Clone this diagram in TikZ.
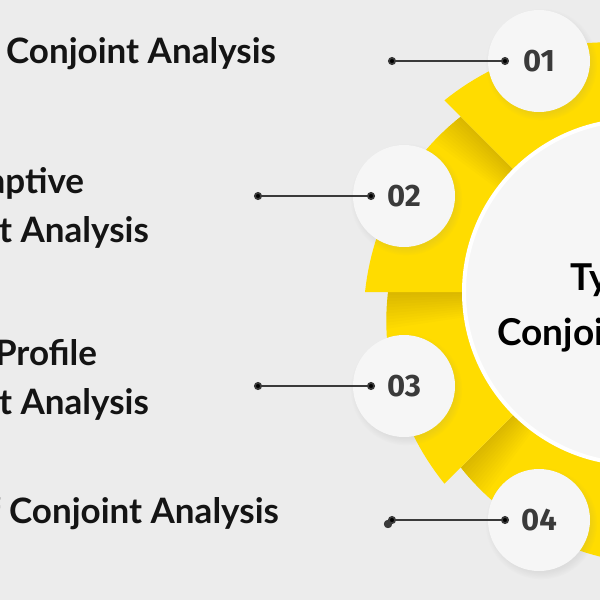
\documentclass[tikz,border=0pt]{standalone}
\usepackage{fontspec}
\setmainfont{Lato}
\newfontfamily\numfont{Fira Sans}
\usepackage{tikz}
\usetikzlibrary{arrows.meta, positioning, shadows}

\definecolor{paper}{HTML}{ECECEC}
\definecolor{sunny}{HTML}{FFDC00}
\definecolor{disc}{HTML}{F6F6F6}
\definecolor{ink}{HTML}{3A3A3A}

% one yellow blade of the fan, from angle #1 to angle #2
\newcommand{\blade}[2]{plot[domain=#1:#2, samples=30] (\x:{248+23*(\x-#1)/45})
  -- (#2:140) arc[start angle=#2, end angle=#1, radius=140] -- cycle}

\begin{document}
\begin{tikzpicture}[x=1pt, y=-1pt,
    numdisc/.style={circle, fill=disc, minimum size=102pt, inner sep=0pt,
      font=\numfont\fontsize{31}{31}\selectfont\bfseries, text=ink,
      circular drop shadow={opacity=.14, shadow xshift=2pt, shadow yshift=-3pt}},
    itemtext/.style={inner sep=0pt, align=center, text=black!92,
      font=\fontsize{35}{49}\selectfont\bfseries},
    connector/.style={{Circle[length=8pt]}-{Circle[length=8pt]}, line width=1.8pt, draw=ink}]
    \useasboundingbox (0,0) rectangle (600,600);
    \clip (0,0) rectangle (600,600);
    \fill[paper] (0,0) rectangle (600,600);

    \coordinate (hub) at (636,292);

    % fan of yellow blades, each one lying on the next
    \begin{scope}[shift={(hub)}, y=1pt]
        \foreach \a [evaluate=\a as \b using \a+45, evaluate=\a as \c using \a-45] in {225,180,135,90} {
            \fill[sunny] \blade{\a}{\b};
            \begin{scope}
                \clip \blade{\a}{\b};
                \foreach \k in {1,...,12}
                    \fill[black, opacity=.012, rotate=\k*0.7] \blade{\c}{\a};
            \end{scope}
        }
    \end{scope}

    \node (core) [circle, fill=disc, draw=white, line width=4pt, minimum size=344pt,
        circular drop shadow={opacity=.08, shadow xshift=0pt, shadow yshift=-2pt, shadow scale=1.01}] at (hub) {};
    \node (title) [itemtext, text=black, font=\fontsize{37}{55}\selectfont\bfseries] at (640,308)
        {Types of\\Conjoint Analysis};

    \node (n1) [numdisc] at (539,61) {01};
    \node (n2) [numdisc] at (404,196) {02};
    \node (n3) [numdisc] at (404,386) {03};
    \node (n4) [numdisc] at (539,520) {04};

    \coordinate [left=30pt of n1.center] (d1b);
    \coordinate [left=121pt of d1b] (d1a);
    \coordinate [left=29pt of n2.center] (d2b);
    \coordinate [left=121pt of d2b] (d2a);
    \coordinate [left=29pt of n3.center] (d3b);
    \coordinate [left=121pt of d3b] (d3a);
    \coordinate [left=30pt of n4.center] (d4b);
    \coordinate [left=121pt of d4b] (d4a);

    \path[connector]
    (d1a) edge (d1b)
    (d2a) edge (d2b)
    (d3a) edge (d3b)
    (d4a) edge (d4b);

    \node (t1) [itemtext, left=112pt of d1a, yshift=7pt] {Choice-Based Conjoint Analysis};
    \node (t2) [itemtext, left=105pt of d2a, yshift=-12pt] {Adaptive\\Conjoint Analysis};
    \node (t3) [itemtext, left=105pt of d3a, yshift=6pt] {Full Profile\\Conjoint Analysis};
    \node (t4) [itemtext, left=109pt of d4a, yshift=6pt] {MaxDiff Conjoint Analysis};
\end{tikzpicture}
\end{document}
